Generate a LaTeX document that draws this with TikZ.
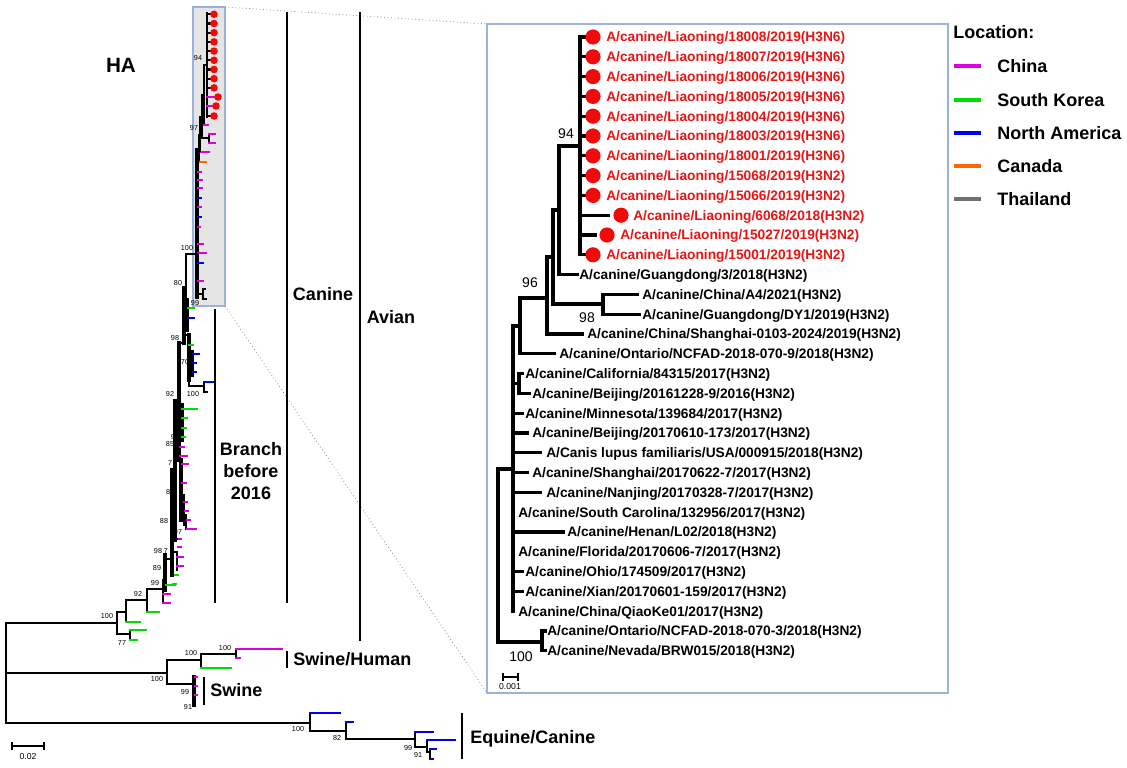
\documentclass[tikz,border=0pt]{standalone}
\usepackage{fontspec}
\setmainfont{Liberation Sans}
\definecolor{cn}{RGB}{221,0,221}
\definecolor{sk}{RGB}{0,221,0}
\definecolor{na}{RGB}{0,0,238}
\definecolor{ca}{RGB}{255,102,0}
\definecolor{th}{RGB}{112,112,112}
\definecolor{dotred}{RGB}{240,10,10}
\definecolor{txtred}{RGB}{232,20,20}
\definecolor{gbox}{RGB}{229,229,229}
\definecolor{bframe}{RGB}{155,178,218}
\tikzset{
  rt/.style={line width=2.4pt, line cap=rect},
  lt/.style={line width=1.6pt, line cap=rect},
  lth/.style={line width=2.6pt, line cap=rect},
  lab/.style={font=\fontsize{10.3}{12}\selectfont\bfseries, inner sep=0pt, anchor=base west},
  rlab/.style={lab, text=txtred},
  bsr/.style={font=\fontsize{10.5}{12}\selectfont, inner sep=0pt},
  bsl/.style={font=\fontsize{5.4}{6}\selectfont, inner sep=0pt},
  grp/.style={font=\fontsize{13.5}{16.5}\selectfont\bfseries, inner sep=0pt},
  bar/.style={line width=1.7pt},
  leg/.style={line width=2.3pt},
}
\newcommand{\ry}[1]{37+19.8*#1}
\begin{document}
\begin{tikzpicture}[x=0.75pt,y=-0.75pt]
\useasboundingbox (0,0) rectangle (1127,767);

% ---------- highlight box and zoom lines ----------
\draw[fill=gbox, draw=bframe, line width=0.9pt] (193,7) rectangle (225,306);
\draw[black!45, dotted, line width=0.6pt] (225,7) -- (487,24);
\draw[black!45, dotted, line width=0.6pt] (225,306) -- (487,693);
\draw[bframe, line width=1pt] (487,24) rectangle (948,693);

% ---------- left tree: canine clade (inside box) ----------
\draw[lt] (207,13) -- (207,117);
\foreach \yy in {14.3,23.5,32.7,41.9,51.1,60.3,69.5,78.7,87.9,116} \draw[lt] (207,\yy) -- (211,\yy);
\draw[lt, cn] (207,97) -- (214,97);
\draw[lt, cn] (207,106) -- (212,106);
\foreach \yy in {14.3,23.5,32.7,41.9,51.1,60.3,69.5,78.7,87.9,116} \fill[dotred] (214,\yy) circle[radius=3.8];
\fill[dotred] (218,97) circle[radius=3.8];
\fill[dotred] (216,106) circle[radius=3.8];
\draw[lt] (207,65) -| (204,125);
\draw[lt, cn] (204,125) -- (208,125);
\node[bsl] (b94l) at (198,58) {94};
\draw[lt] (204,95) -| (202,138) -- (209,138);
\draw[lt] (209,134) -- (209,143);
\draw[lt, cn] (209,134) -- (215,134);
\draw[lt, cn] (209,143) -- (215,143);
\node[bsl] (b97l) at (194,128) {97};
\draw[lt] (202,117) -| (200,152);
\draw[lt, cn] (200,152) -- (209,152);
\draw[lt] (200,135) -| (199,162);
\draw[lt, ca] (199,162) -- (206,162);
\draw[lth] (199,150) -| (197,297);
\foreach \yy/\xe/\cc in {172/201/cn,180/202/cn,188/202/cn,198/201/na,207/201/cn,217/201/na,227/200/cn,244/203/cn,253/206/cn,263/203/na,281/203/cn}
  \draw[lt, \cc] (198,\yy) -- (\xe,\yy);
\draw[lt] (197,294) -- (203,294);
\draw[lt] (203,289) -- (203,299);
\draw[lt] (203,289) -- (205,289);
\draw[lt] (203,299) -- (206,299);
\node[bsl] (b100a) at (187,248) {100};
\draw[lt] (197,254) -| (186,300);
\node[bsl] (b80) at (178,283) {80};
\node[bsl] (b99a) at (195,303) {99};

% ---------- left tree: lower canine spine ----------
\draw[lt] (186,288) -| (184,343);
\draw[lth] (184,288) -- (184,343);
\draw[lth] (187,300) -- (187,330);
\draw[lt, sk] (188,308) -- (194,308);
\draw[lt, na] (188,318) -- (194,318);
\node[bsl] (b98a) at (175,338) {98};
\draw[lt] (184,343) -| (179,460);
\draw[lth] (179,343) -- (179,460);
\draw[lt] (184,335) -| (189,386);
\draw[lth] (189,335) -- (189,380);
\draw[lt, sk] (189,345) -- (193,345);
\draw[lt] (189,363) -- (192,363);
\draw[lth] (192,352) -- (192,375);
\draw[lt, na] (193,354) -- (199,354);
\draw[lt, na] (193,363) -- (196,363);
\draw[lt, na] (193,372) -- (196,372);
\node[bsl] (b70) at (185,362) {70};
\draw[lt] (189,386) -- (204,386);
\draw[lt] (204,382) -- (204,392);
\draw[lt, na] (204,382) -- (213,382);
\draw[lt] (204,392) -- (207,392);
\node[bsl] (b100b) at (193,394) {100};
\node[bsl] (b92a) at (170,394) {92};
\draw[lt] (179,401) -| (175,540);
\draw[lth] (175,401) -- (175,540);
\draw[lt] (179,420) -| (182,440);
\draw[lth] (182,405) -- (182,440);
\draw[lt, sk] (182,409) -- (197,409);
\draw[lt, sk] (182,418) -- (187,418);
\draw[lt, sk] (182,428) -- (186,428);
\draw[lt, sk] (182,437) -- (185,437);
\node[bsl] (b85) at (170,444) {85};
\node[bsl] (b95) at (175,437) {95};
\draw[lt] (179,451) -| (180,447);
\draw[lt] (180,447) -- (180,456);
\draw[lt, cn] (180,447) -- (184,447);
\draw[lt, cn] (180,456) -- (187,456);
\node[bsl] (b7a) at (170,463) {7};
\draw[lth] (181,460) -- (181,520);
\draw[lt, cn] (182,464) -- (188,464);
\node[bsl] (b9) at (172,480) {9};
\draw[lt, cn] (182,483) -- (186,483);
\node[bsl] (b8) at (168,492) {8};
\draw[lt] (181,495) -| (184,525);
\draw[lt, cn] (184,502) -- (187,502);
\draw[lt, cn] (185,511) -- (188,511);
\draw[lt] (184,515) -| (186,529);
\draw[lt, cn] (187,520) -- (190,520);
\draw[lt, cn] (187,529) -- (196,529);
\node[bsl] (b88) at (164,521) {88};
\node[bsl] (b5) at (175,524) {5};
\node[bsl] (b97b) at (178,532) {97};
\draw[lth] (172,470) -- (172,575);
\draw[lt] (172,552) -| (177,570);
\draw[lt, cn] (177,539) -- (181,539);
\draw[lt, cn] (178,547) -- (181,547);
\draw[lt, cn] (177,557) -- (183,557);
\draw[lt, cn] (177,566) -- (183,566);
\draw[lt] (175,539) -- (177,539);
\node[bsl] (b98b) at (158,551) {98};
\node[bsl] (b7b) at (166,551) {7};
\draw[lt, sk] (175,575) -- (178,575);
\draw[lt, sk] (173,584) -- (176,584);
\node[bsl] (b89) at (157,568) {89};
\draw[lt] (172,559) -| (165,590);
\draw[lth] (165,555) -- (165,590);
\node[bsl] (b99b) at (155,583) {99};
\draw[lt] (165,580) -| (163,603);
\draw[lt, sk] (166,585) -- (175,585);
\draw[lt, cn] (163,594) -- (170,594);
\draw[lt, cn] (163,603) -- (170,603);
\node[bsl] (b92b) at (138,594) {92};
\draw[lt] (163,589) -| (147,612);
\draw[lt, sk] (147,612) -- (159,612);
\draw[lt] (147,600) -| (126,622);
\draw[lt, sk] (126,622) -- (140,622);
\node[bsl] (b100c) at (107,616) {100};
\draw[lt] (126,612) -| (117,634) -- (130,634);
\draw[lt] (130,630) -- (130,640);
\draw[lt, sk] (130,630) -- (146,630);
\draw[lt, sk] (130,640) -- (137,640);
\node[bsl] (b77) at (122,643) {77};

% ---------- root, swine, equine ----------
\draw[lt] (117,623) -| (6,723);
\draw[lt] (6,673) -- (167,673);
\draw[lt] (167,660) -- (167,684);
\draw[lt] (167,660) -- (201,660);
\node[bsl] (b100d) at (191,653) {100};
\node[bsl] (b100e) at (157,679) {100};
\draw[lt] (201,654) -- (201,668);
\draw[lt] (201,654) -- (236,654);
\node[bsl] (b100f) at (225,648) {100};
\draw[lt] (236,649) -- (236,658);
\draw[lt, cn] (236,649) -- (282,649);
\draw[lt, cn] (236,658) -- (240,658);
\draw[lt, sk] (201,668) -- (231,668);
\draw[lt] (167,684) -- (194,684);
\draw[lth] (194,677) -- (194,705);
\draw[lt, cn] (195,677) -- (197,677);
\draw[lt, cn] (195,686) -- (197,686);
\draw[lt, cn] (195,695) -- (197,695);
\node[bsl] (b99c) at (185,692) {99};
\node[bsl] (b91a) at (188,707) {91};

\draw[lt] (6,723) -- (310,723);
\draw[lt] (310,713) -- (310,731);
\draw[lt, na] (310,713) -- (340,713);
\node[bsl] (b100g) at (298,729) {100};
\draw[lt] (310,731) -- (346,731);
\draw[lt] (346,722) -- (346,739);
\draw[lt, na] (346,722) -- (353,722);
\node[bsl] (b82) at (337,738) {82};
\draw[lt] (346,739) -- (415,739);
\draw[lt] (415,732) -- (415,747);
\draw[lt, na] (415,732) -- (433,732);
\node[bsl] (b99d) at (408,748) {99};
\draw[lt] (415,747) -- (427,747);
\draw[lt] (427,740) -- (427,752);
\draw[lt, na] (427,740) -- (455,740);
\draw[lt] (427,752) -- (430,752);
\draw[lt] (430,749) -- (430,759);
\draw[lt, na] (430,749) -- (436,749);
\draw[lt, na] (430,759) -- (433,759);
\node[bsl] (b91b) at (418,755) {91};

% ---------- group bars and labels ----------
\draw[bar] (215,309) -- (215,603);
\draw[bar] (287,12) -- (287,603);
\draw[bar] (360,12) -- (360,641);
\draw[bar] (287,651) -- (287,668);
\draw[bar] (204,677) -- (204,705);
\draw[bar] (462,713) -- (462,759);
\node[grp, font=\fontsize{15.5}{18}\selectfont\bfseries] (ha) at (121,65) {HA};
\node[grp] (canine) at (323,294) {Canine};
\node[grp] (avian) at (391,317) {Avian};
\node[grp, align=center] (branch) at (251,471) {Branch\\before\\2016};
\node[grp, anchor=base west] (swhu) at (293,665.5) {Swine/Human};
\node[grp, anchor=base west] (swine) at (210,696.5) {Swine};
\node[grp, anchor=base west] (equine) at (470,743.5) {Equine/Canine};

% scale bar left
\draw[line width=1pt] (12,746) -- (44,746);
\draw[line width=1pt] (12,742) -- (12,750);
\draw[line width=1pt] (44,742) -- (44,750);
\node[font=\fontsize{6.5}{7}\selectfont, inner sep=0pt] (sc1) at (28,757) {0.02};

% ---------- right tree ----------
\draw[rt] (580,37) -- (580,254.8);
\foreach \i in {0,...,8,11} \draw[rt] (580,{\ry{\i}}) -- (587,{\ry{\i}});
\draw[rt] (580,215.2) -- (608,215.2);
\draw[rt] (580,235) -- (595,235);
\foreach \i in {0,...,8,11} \fill[dotred] (593,{\ry{\i}}) circle[radius=7.6];
\fill[dotred] (621,215.2) circle[radius=7.6];
\fill[dotred] (607,235) circle[radius=7.6];

\foreach \i/\nm/\sub in {0/18008/H3N6,1/18007/H3N6,2/18006/H3N6,3/18005/H3N6,4/18004/H3N6,5/18003/H3N6,6/18001/H3N6,7/15068/H3N2,8/15066/H3N2}
  \node[rlab] (r\i) at (606,{\ry{\i}+4.9}) {A/canine/Liaoning/\nm/2019(\sub)};
\node[rlab] (r9) at (633,{\ry{9}+4.9}) {A/canine/Liaoning/6068/2018(H3N2)};
\node[rlab] (r10) at (620,{\ry{10}+4.9}) {A/canine/Liaoning/15027/2019(H3N2)};
\node[rlab] (r11) at (606,{\ry{11}+4.9}) {A/canine/Liaoning/15001/2019(H3N2)};

\draw[rt] (580,146) -| (559,274.6) -- (577,274.6);
\node[bsr] (b94) at (566,134) {94};
\draw[rt] (559,210) -| (553,304) -- (603,304);
\draw[rt] (603,294.4) -- (603,314.2);
\draw[rt] (603,294.4) -- (637,294.4);
\draw[rt] (603,314.2) -- (639,314.2);
\node[bsr] (b98) at (587,318) {98};
\draw[rt] (553,257) -| (547,334) -- (582,334);
\draw[rt] (547,298) -| (520,353.8) -- (554,353.8);
\node[bsr] (b96) at (530,283) {96};
\draw[rt] (520,326) -| (513,611.2);
\draw[rt] (513,383.5) -| (519,373.6) -- (522,373.6);
\draw[rt] (519,383.5) |- (529,393.4);
\foreach \i/\xe in {19/522,20/527,21/540,22/527,23/540,25/563,27/522,28/522}
  \draw[rt] (513,{\ry{\i}}) -- (\xe,{\ry{\i}});
\draw[rt] (513,469) -| (498,642) -- (542,642);
\draw[rt] (542,631) -- (542,650.8);
\draw[rt] (542,631) -- (545,631);
\draw[rt] (542,650.8) -- (545,650.8);
\node[bsr] (b100) at (521,657) {100};

\node[lab] (r12) at (579,{\ry{12}+4.9}) {A/canine/Guangdong/3/2018(H3N2)};
\node[lab] (r13) at (642,{\ry{13}+4.9}) {A/canine/China/A4/2021(H3N2)};
\node[lab] (r14) at (642,{\ry{14}+4.9}) {A/canine/Guangdong/DY1/2019(H3N2)};
\node[lab] (r15) at (587,{\ry{15}+4.9}) {A/canine/China/Shanghai-0103-2024/2019(H3N2)};
\node[lab] (r16) at (559,{\ry{16}+4.9}) {A/canine/Ontario/NCFAD-2018-070-9/2018(H3N2)};
\node[lab] (r17) at (525,{\ry{17}+4.9}) {A/canine/California/84315/2017(H3N2)};
\node[lab] (r18) at (532,{\ry{18}+4.9}) {A/canine/Beijing/20161228-9/2016(H3N2)};
\node[lab] (r19) at (525,{\ry{19}+4.9}) {A/canine/Minnesota/139684/2017(H3N2)};
\node[lab] (r20) at (532,{\ry{20}+4.9}) {A/canine/Beijing/20170610-173/2017(H3N2)};
\node[lab] (r21) at (546,{\ry{21}+4.9}) {A/Canis lupus familiaris/USA/000915/2018(H3N2)};
\node[lab] (r22) at (532,{\ry{22}+4.9}) {A/canine/Shanghai/20170622-7/2017(H3N2)};
\node[lab] (r23) at (546,{\ry{23}+4.9}) {A/canine/Nanjing/20170328-7/2017(H3N2)};
\node[lab] (r24) at (518,{\ry{24}+4.9}) {A/canine/South Carolina/132956/2017(H3N2)};
\node[lab] (r25) at (567,{\ry{25}+4.9}) {A/canine/Henan/L02/2018(H3N2)};
\node[lab] (r26) at (518,{\ry{26}+4.9}) {A/canine/Florida/20170606-7/2017(H3N2)};
\node[lab] (r27) at (525,{\ry{27}+4.9}) {A/canine/Ohio/174509/2017(H3N2)};
\node[lab] (r28) at (525,{\ry{28}+4.9}) {A/canine/Xian/20170601-159/2017(H3N2)};
\node[lab] (r29) at (518,{\ry{29}+4.9}) {A/canine/China/QiaoKe01/2017(H3N2)};
\node[lab] (r30) at (547,{\ry{30}+4.9}) {A/canine/Ontario/NCFAD-2018-070-3/2018(H3N2)};
\node[lab] (r31) at (547,{\ry{31}+4.9}) {A/canine/Nevada/BRW015/2018(H3N2)};

% scale bar right
\draw[line width=1pt] (503,677) -- (518,677);
\draw[line width=1pt] (503,673) -- (503,681);
\draw[line width=1pt] (518,673) -- (518,681);
\node[font=\fontsize{6.5}{7}\selectfont, inner sep=0pt] (sc2) at (510,687) {0.001};

% ---------- legend ----------
\node[grp, anchor=base west] (loctitle) at (953,38.5) {Location:};
\foreach \yy/\cc/\tt in {66/cn/China,100/sk/South Korea,133/na/North America,166/ca/Canada,199/th/Thailand}{
  \draw[leg, \cc] (954,\yy) -- (981,\yy);
  \node[grp, anchor=base west] at (997,\yy+6.3) {\tt};
}
\end{tikzpicture}
\end{document}
